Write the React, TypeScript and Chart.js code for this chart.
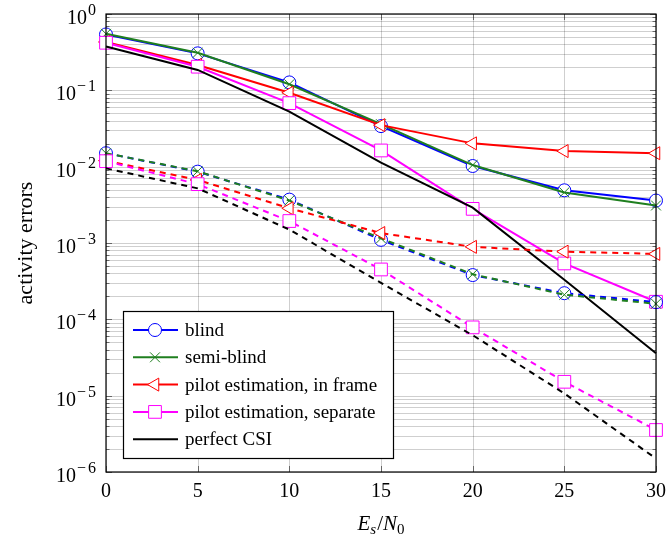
import { useEffect, useRef } from 'react';
import { Chart, registerables } from 'chart.js';

Chart.register(...registerables);

// ---------- data ----------
const snr = [0, 5, 10, 15, 20, 25, 30];

const blindSolid = [0.54, 0.305, 0.127, 0.034, 0.0102, 0.0049, 0.0036];
const semiBlindSolid = [0.55, 0.31, 0.12, 0.036, 0.0105, 0.0046, 0.0031];
const inFrameSolid = [0.43, 0.215, 0.093, 0.035, 0.0202, 0.016, 0.015];
const separateSolid = [0.42, 0.204, 0.068, 0.0163, 0.0028, 0.00054, 0.00017];
const perfectSolid = [0.375, 0.185, 0.0525, 0.0113, 0.0029, 0.00033, 0.000036];

const blindDashed = [0.015, 0.0086, 0.0037, 0.0011, 0.00038, 0.00022, 0.000168];
const semiBlindDashed = [0.015, 0.0087, 0.0036, 0.00115, 0.00039, 0.00021, 0.00016];
const inFrameDashed = [0.012, 0.0067, 0.00285, 0.00135, 0.00089, 0.00077, 0.00072];
const separateDashed = [0.0118, 0.0059, 0.00194, 0.00045, 0.0000785, 0.0000152, 0.00000355];
const perfectDashed = [0.0095, 0.0052, 0.0015, 0.0003, 0.000062, 0.0000107, 0.0000015];

const legendLabels = [
  'blind',
  'semi-blind',
  'pilot estimation, in frame',
  'pilot estimation, separate',
  'perfect CSI',
];

const xTicks = [0, 5, 10, 15, 20, 25, 30];
const yTickExps = [0, -1, -2, -3, -4, -5, -6];
const xTitleParts = ['E', 's', '/', 'N', '0'];
const yTitle = 'activity errors';

// ---------- styles ----------
const SERIF = '"Liberation Serif", "Times New Roman", serif';
const BLUE = '#0000ff';
const GREEN = '#1f7f1f';
const RED = '#ff0000';
const MAGENTA = '#ff00ff';
const BLACK = '#000000';
const GRID = 'rgba(0,0,0,0.19)';

type Marker = { style: string; radius: number; rotation: number };
const markers: Marker[] = [
  { style: 'circle', radius: 6.5, rotation: 0 },
  { style: 'crossRot', radius: 7, rotation: 0 },
  { style: 'triangle', radius: 7.5, rotation: -90 },
  { style: 'rect', radius: 9, rotation: 0 },
  { style: 'none', radius: 0, rotation: 0 },
];
const colors = [BLUE, GREEN, RED, MAGENTA, BLACK];
const solidSeries = [blindSolid, semiBlindSolid, inFrameSolid, separateSolid, perfectSolid];
const dashedSeries = [blindDashed, semiBlindDashed, inFrameDashed, separateDashed, perfectDashed];

function makeDataset(values: number[], idx: number, dashed: boolean, order: number) {
  const m = markers[idx];
  return {
    label: legendLabels[idx] + (dashed ? ' (dashed)' : ''),
    data: snr.map((x, i) => ({ x, y: values[i] })),
    borderColor: colors[idx],
    backgroundColor: colors[idx],
    borderWidth: 2,
    borderDash: dashed ? [6, 5] : [],
    tension: 0,
    clip: false as const,
    order,
    pointStyle: m.style === 'none' ? false : m.style,
    pointRadius: m.radius,
    pointRotation: m.rotation,
    pointBackgroundColor: '#ffffff',
    pointBorderColor: colors[idx],
    pointBorderWidth: 1,
    pointHoverRadius: m.radius,
  };
}

function drawMarker(ctx: CanvasRenderingContext2D, idx: number, x: number, y: number) {
  const m = markers[idx];
  ctx.save();
  ctx.strokeStyle = colors[idx];
  ctx.fillStyle = '#ffffff';
  ctx.lineWidth = 1;
  ctx.setLineDash([]);
  ctx.beginPath();
  if (m.style === 'circle') {
    ctx.arc(x, y, m.radius, 0, Math.PI * 2);
    ctx.fill();
    ctx.stroke();
  } else if (m.style === 'crossRot') {
    const d = m.radius * Math.SQRT1_2;
    ctx.moveTo(x - d, y - d);
    ctx.lineTo(x + d, y + d);
    ctx.moveTo(x - d, y + d);
    ctx.lineTo(x + d, y - d);
    ctx.stroke();
  } else if (m.style === 'triangle') {
    let rad = (m.rotation * Math.PI) / 180;
    ctx.moveTo(x + Math.sin(rad) * m.radius, y - Math.cos(rad) * m.radius);
    rad += (2 * Math.PI) / 3;
    ctx.lineTo(x + Math.sin(rad) * m.radius, y - Math.cos(rad) * m.radius);
    rad += (2 * Math.PI) / 3;
    ctx.lineTo(x + Math.sin(rad) * m.radius, y - Math.cos(rad) * m.radius);
    ctx.closePath();
    ctx.fill();
    ctx.stroke();
  } else if (m.style === 'rect') {
    const s = m.radius * Math.SQRT1_2;
    ctx.rect(x - s, y - s, 2 * s, 2 * s);
    ctx.fill();
    ctx.stroke();
  }
  ctx.restore();
}

const decorPlugin = {
  id: 'pgfDecor',
  beforeDatasetsDraw(chart: any) {
    const { ctx, chartArea: ca, scales } = chart;
    const xs = scales.x;
    const ys = scales.y;
    ctx.save();
    ctx.lineWidth = 1;
    ctx.strokeStyle = GRID;
    const minE = Math.min(...yTickExps);
    const maxE = Math.max(...yTickExps);
    for (let e = minE; e <= maxE; e++) {
      for (let m = 1; m < 10; m++) {
        if (e === maxE && m > 1) break;
        const v = m * Math.pow(10, e);
        const py = Math.round(ys.getPixelForValue(v)) + 0.5;
        ctx.beginPath();
        ctx.moveTo(ca.left, py);
        ctx.lineTo(ca.right, py);
        ctx.stroke();
      }
    }
    for (const t of xTicks) {
      const px = Math.round(xs.getPixelForValue(t)) + 0.5;
      ctx.beginPath();
      ctx.moveTo(px, ca.top);
      ctx.lineTo(px, ca.bottom);
      ctx.stroke();
    }
    ctx.strokeStyle = 'rgba(0,0,0,0.5)';
    for (let e = minE; e <= maxE; e++) {
      for (let m = 1; m < 10; m++) {
        if (e === maxE && m > 1) break;
        const v = m * Math.pow(10, e);
        const py = Math.round(ys.getPixelForValue(v)) + 0.5;
        const len = m === 1 ? 6 : 3.5;
        ctx.beginPath();
        ctx.moveTo(ca.left, py);
        ctx.lineTo(ca.left + len, py);
        ctx.moveTo(ca.right, py);
        ctx.lineTo(ca.right - len, py);
        ctx.stroke();
      }
    }
    for (const t of xTicks) {
      const px = Math.round(xs.getPixelForValue(t)) + 0.5;
      ctx.beginPath();
      ctx.moveTo(px, ca.bottom);
      ctx.lineTo(px, ca.bottom - 6);
      ctx.moveTo(px, ca.top);
      ctx.lineTo(px, ca.top + 6);
      ctx.stroke();
    }
    ctx.restore();
  },
  afterDraw(chart: any) {
    const { ctx, chartArea: ca, scales } = chart;
    const xs = scales.x;
    const ys = scales.y;
    ctx.save();
    ctx.strokeStyle = '#000';
    ctx.lineWidth = 1.2;
    ctx.setLineDash([]);
    ctx.strokeRect(ca.left, ca.top, ca.right - ca.left, ca.bottom - ca.top);

    ctx.fillStyle = '#000';
    ctx.font = `20px ${SERIF}`;
    ctx.textAlign = 'center';
    ctx.textBaseline = 'alphabetic';
    for (const t of xTicks) {
      ctx.fillText(String(t), xs.getPixelForValue(t), ca.bottom + 25);
    }
    // y tick labels 10^e
    ctx.textAlign = 'left';
    for (const e of yTickExps) {
      const py = ys.getPixelForValue(Math.pow(10, e));
      const right = ca.left - 10;
      ctx.font = `16px ${SERIF}`;
      const digit = String(Math.abs(e));
      const wDigit = ctx.measureText(digit).width;
      let x = right - wDigit;
      ctx.fillText(digit, x, py + 1);
      if (e !== 0) {
        const minus = '\u2212';
        const wMinus = ctx.measureText(minus).width;
        x -= wMinus + 2;
        ctx.fillText(minus, x, py + 1);
      }
      ctx.font = `20px ${SERIF}`;
      const wBase = ctx.measureText('10').width;
      ctx.fillText('10', x - wBase - 1, py + 10);
    }
    // x title  E_s / N_0
    {
      const cx = (ca.left + ca.right) / 2;
      const base = 530;
      const big = `italic 21px ${SERIF}`;
      const bigUp = `21px ${SERIF}`;
      const small = `italic 15px ${SERIF}`;
      const smallUp = `15px ${SERIF}`;
      const parts = [
        { t: xTitleParts[0], f: big, dy: 0, gap: 0 },
        { t: xTitleParts[1], f: small, dy: 4, gap: 0 },
        { t: xTitleParts[2], f: bigUp, dy: 0, gap: 1 },
        { t: xTitleParts[3], f: big, dy: 0, gap: 0 },
        { t: xTitleParts[4], f: smallUp, dy: 4, gap: 0 },
      ];
      let total = 0;
      for (const p of parts) {
        ctx.font = p.f;
        total += ctx.measureText(p.t).width + p.gap;
      }
      let x = cx - total / 2;
      for (const p of parts) {
        ctx.font = p.f;
        ctx.fillText(p.t, x + p.gap, base + p.dy);
        x += ctx.measureText(p.t).width + p.gap;
      }
    }
    // y title
    ctx.save();
    ctx.translate(26, (ca.top + ca.bottom) / 2);
    ctx.rotate(-Math.PI / 2);
    ctx.font = `22px ${SERIF}`;
    ctx.textAlign = 'center';
    ctx.textBaseline = 'middle';
    ctx.fillText(yTitle, 0, 0);
    ctx.restore();

    // legend
    const lx = ca.left + 17;
    const ly = ca.top + 297;
    const lw = 270;
    const lh = 147;
    ctx.fillStyle = '#fff';
    ctx.fillRect(lx, ly, lw, lh);
    ctx.strokeStyle = '#000';
    ctx.lineWidth = 1.2;
    ctx.strokeRect(lx + 0.5, ly + 0.5, lw, lh);
    ctx.font = `19px ${SERIF}`;
    ctx.textAlign = 'left';
    ctx.textBaseline = 'middle';
    for (let i = 0; i < legendLabels.length; i++) {
      const ry = ly + 19 + i * 27.3;
      ctx.strokeStyle = colors[i];
      ctx.lineWidth = 2;
      ctx.beginPath();
      ctx.moveTo(lx + 10, ry);
      ctx.lineTo(lx + 55, ry);
      ctx.stroke();
      drawMarker(ctx, i, lx + 32, ry);
      ctx.fillStyle = '#000';
      ctx.fillText(legendLabels[i], lx + 62, ry + 1);
    }
    ctx.restore();
  },
};

export default function App() {
  const ref = useRef<HTMLCanvasElement>(null);
  useEffect(() => {
    if (!ref.current) return;
    const n = solidSeries.length;
    const datasets = [
      ...solidSeries.map((s, i) => makeDataset(s, i, false, 100 - i)),
      ...dashedSeries.map((s, i) => makeDataset(s, i, true, 100 - n - i)),
    ];
    const chart = new Chart(ref.current, {
      type: 'line',
      data: { datasets: datasets as any },
      options: {
        animation: false,
        responsive: false,
        maintainAspectRatio: false,
        devicePixelRatio: 1,
        layout: { padding: { left: 106, top: 14, right: 12, bottom: 68 } },
        plugins: { legend: { display: false }, tooltip: { enabled: false } },
        events: [],
        scales: {
          x: { type: 'linear', min: 0, max: 30, display: false },
          y: { type: 'logarithmic', min: 1e-6, max: 1, display: false },
        },
      },
      plugins: [decorPlugin as any],
    });
    return () => chart.destroy();
  }, []);
  return (
    <div style={{ position: 'fixed', left: 0, top: 0, width: 668, height: 540, background: '#fff' }}>
      <canvas ref={ref} width={668} height={540} style={{ width: 668, height: 540, display: 'block' }} />
    </div>
  );
}
